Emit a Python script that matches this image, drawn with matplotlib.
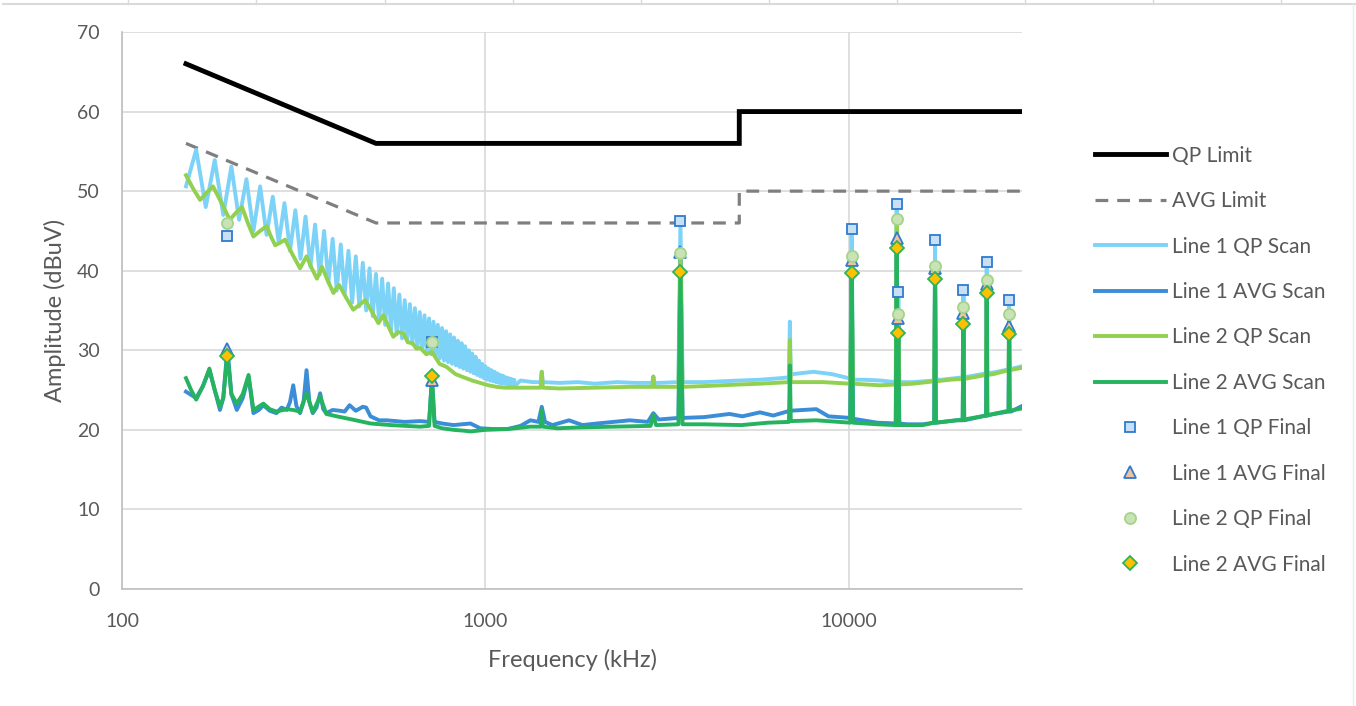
import matplotlib
matplotlib.use('Agg')
import matplotlib.pyplot as plt
from matplotlib.lines import Line2D
import numpy as np

plt.rcParams['font.family'] = ['Lato', 'DejaVu Sans']

# limit lines (kHz, dBuV)
limit_f = [150, 500, 5000, 5000, 30000]
qp_limit = [66, 56, 56, 60, 60]
avg_limit = [56, 46, 46, 50, 50]

# Line 1 QP scan, low band: ripple peaks and troughs
qp1_peak_f = [160, 180, 200, 220, 240, 260, 280, 300, 320, 340, 360, 380, 400, 420,
              440, 460, 480, 500, 520, 540, 560, 580, 600, 620, 640, 660, 680, 700,
              720, 740, 760, 780, 800, 820, 840, 860, 880, 900, 920, 940, 960, 980,
              1000, 1020, 1040, 1060, 1080, 1100, 1120, 1140, 1160, 1180, 1200]
qp1_peak = [55.2, 53.9, 53.1, 51.5, 50.6, 49.3, 48.5, 47.6, 46.8, 45.8, 45.0, 44.0,
            43.3, 42.5, 41.8, 41.0, 40.3, 39.6, 39.0, 38.4, 37.8, 37.0, 36.3, 35.8,
            35.3, 34.8, 34.4, 34.0, 33.6, 33.2, 32.8, 32.4, 32.0, 31.6, 31.2, 30.9,
            30.5, 30.0, 29.6, 29.2, 28.7, 28.3, 28.0, 27.7, 27.5, 27.3, 27.1, 26.9,
            26.8, 26.6, 26.5, 26.4, 26.3]
qp1_trough_f = [150, 170, 190, 210, 230, 250, 270, 290, 310, 330, 350, 370, 390, 410,
                430, 450, 470, 490, 510, 530, 550, 570, 590, 610, 630, 650, 670, 690,
                710, 730, 750, 770, 790, 810, 830, 850, 870, 890, 910, 930, 950, 970,
                990, 1010, 1030, 1050, 1070, 1090, 1110, 1130, 1150, 1170, 1190, 1210]
qp1_trough = [50.6, 48.0, 47.0, 46.4, 45.0, 44.5, 43.5, 42.5, 41.5, 40.5, 39.5, 38.5,
              37.5, 37.0, 36.0, 35.5, 35.0, 34.3, 33.6, 33.2, 32.5, 32.0, 31.5, 31.2,
              30.8, 30.4, 30.1, 29.8, 29.5, 29.2, 29.0, 28.7, 28.5, 28.3, 28.1, 27.9,
              27.7, 27.5, 27.3, 27.1, 26.9, 26.7, 26.5, 26.3, 26.2, 26.1, 26.0, 25.9,
              25.8, 25.8, 25.7, 25.7, 25.6, 25.6]
qp1_tail_f = [1250, 1350, 1420, 1430, 1440, 1600, 1800, 2000, 2300, 2600, 2880, 2900,
              2920, 3000, 3400, 3444, 3490, 4000, 5000, 5700, 6500, 6850, 6890, 6930,
              7000, 8000, 9000, 10000, 10100, 10190, 10280, 11000, 12200, 13480, 13560,
              13630, 13700, 13780, 15000, 17200, 17290, 17380, 18000, 20600, 20700,
              20800, 22000, 23900, 23990, 24080, 25000, 27550, 27650, 27750, 30000]
qp1_tail = [26.2, 26.0, 26.0, 27.3, 26.0, 25.9, 26.0, 25.8, 26.0, 25.9, 25.9, 26.7,
            25.9, 25.9, 26.0, 46.2, 26.0, 26.0, 26.2, 26.3, 26.5, 26.6, 33.6, 26.8,
            27.0, 27.3, 27.0, 26.5, 26.4, 45.3, 26.3, 26.3, 26.2, 26.0, 48.4,
            26.0, 37.3, 26.0, 26.0, 26.2, 43.8, 26.3, 26.3, 26.6, 37.6,
            26.6, 26.8, 27.1, 41.1, 27.1, 27.2, 27.6, 36.3, 27.6, 28.0]

# Line 2 QP scan
qp2_f = [150, 157, 164, 171, 178, 188, 198, 206, 214, 222, 230, 240, 250, 257, 264,
         272, 281, 295, 309, 315, 322, 333, 344, 350, 355, 368, 382, 389, 396, 414,
         433, 450, 467, 488, 508, 516, 524, 541, 558, 576, 595, 612, 630, 646, 662,
         688, 713, 748, 783, 828, 872, 920, 968, 1020, 1075, 1130, 1190, 1250, 1420,
         1430, 1440, 1600, 2000, 2500, 2880, 2900, 2920, 3400, 3444, 3490, 4000, 5000,
         5700, 6850, 6890, 6930, 8500, 10100, 10190, 10280, 12200, 13480, 13560, 13630,
         13700, 13780, 15000, 17200, 17290, 17380, 19000, 20600, 20700, 20800, 22000,
         23900, 23990, 24080, 25000, 27550, 27650, 27750, 30000]
qp2 = [52.0, 50.3, 48.9, 49.8, 50.6, 48.5, 46.4, 47.3, 48.0, 46.0, 44.3, 45.0, 45.6,
       44.3, 43.2, 43.5, 43.9, 42.0, 40.3, 41.0, 41.8, 40.3, 39.0, 39.8, 40.5, 38.8,
       37.2, 37.8, 38.2, 36.6, 35.1, 35.7, 36.3, 34.8, 33.4, 33.9, 34.4, 33.0, 31.7,
       32.3, 32.1, 31.0, 30.9, 30.2, 30.3, 29.5, 29.8, 28.3, 27.9, 27.0, 26.6, 26.2,
       25.9, 25.6, 25.4, 25.3, 25.3, 25.3, 25.3, 27.3, 25.3, 25.2, 25.3, 25.4, 25.4,
       26.7, 25.4, 25.4, 42.2, 25.4, 25.5, 25.7, 25.8, 26.0, 31.3, 26.0, 26.0, 25.8,
       41.8, 25.8, 25.6, 25.7, 46.5, 25.7, 34.6, 25.7, 25.8, 26.1, 40.6, 26.1, 26.3,
       26.4, 35.4, 26.4, 26.6, 26.9, 38.8, 26.9, 27.0, 27.5, 34.6, 27.5, 27.8]

# Line 1 AVG scan
avg1_f = [150, 160, 167, 174, 180, 186, 190, 195, 200, 207, 215, 223, 230, 238, 245,
          255, 266, 275, 284, 290, 296, 302, 309, 316, 322, 328, 335, 343, 351, 358,
          365, 380, 398, 410, 423, 440, 460, 470, 483, 510, 535, 600, 662, 700, 713,
          725, 760, 818, 910, 968, 1050, 1150, 1250, 1330, 1400, 1430, 1460, 1530,
          1700, 1850, 2030, 2250, 2500, 2800, 2900, 3000, 3400, 3444, 3490, 4000, 4700,
          5100, 5700, 6200, 6890, 7500, 8150, 8800, 10100, 10190, 10280, 12000, 13480,
          13560, 13630, 13700, 13780, 14500, 16000, 17200, 17290, 17380, 19800, 20600,
          20700, 20800, 23900, 23990, 24080, 24500, 27550, 27650, 27750, 28000, 30000]
avg1 = [24.8, 24.0, 25.5, 27.5, 25.0, 22.5, 24.0, 30.3, 24.5, 22.5, 24.0, 26.7, 22.1,
        22.5, 23.1, 22.4, 22.1, 22.8, 22.5, 23.5, 25.6, 23.0, 22.1, 23.5, 27.5, 23.5,
        22.1, 22.8, 24.6, 22.6, 22.1, 22.5, 22.4, 22.3, 23.1, 22.4, 22.9, 22.8, 21.7,
        21.2, 21.2, 21.0, 21.1, 21.0, 26.3, 21.0, 20.8, 20.6, 20.8, 20.2, 20.1, 20.1,
        20.5, 21.2, 21.0, 22.9, 21.0, 20.6, 21.2, 20.6, 20.8, 21.0, 21.2, 21.0, 22.1,
        21.3, 21.5, 42.4, 21.5, 21.6, 22.0, 21.7, 22.2, 21.8, 22.4, 22.5, 22.6, 21.7,
        21.5, 41.3, 21.4, 20.9, 20.8, 44.1, 20.8, 34.0, 20.8, 20.7, 20.7, 20.9, 40.3,
        20.9, 21.2, 21.2, 34.7, 21.2, 21.8, 38.3, 21.8, 21.9, 22.3, 33.0, 22.3, 22.3,
        23.0]

# Line 2 AVG scan
avg2_f = [150, 155, 160, 167, 174, 180, 186, 190, 195, 200, 207, 215, 223, 230, 245,
          255, 266, 284, 296, 309, 322, 335, 351, 365, 390, 430, 483, 550, 662, 700,
          713, 725, 760, 818, 872, 910, 1000, 1150, 1330, 1420, 1430, 1440, 1580, 1800,
          2250, 2850, 2900, 2950, 3400, 3444, 3490, 4000, 5070, 6000, 6850, 6890, 6930,
          8150, 10100, 10190, 10280, 12000, 13480, 13560, 13630, 13700, 13780, 16000,
          17200, 17290, 17380, 19800, 20600, 20700, 20800, 23900, 23990, 24080, 25000,
          27550, 27650, 27750, 30000]
avg2 = [26.5, 25.0, 23.8, 25.5, 27.7, 25.0, 22.9, 24.0, 29.5, 24.5, 23.3, 24.5, 26.9,
        22.5, 23.3, 22.6, 22.3, 22.6, 22.5, 22.3, 24.6, 22.2, 24.2, 22.0, 21.7, 21.3,
        20.8, 20.6, 20.4, 20.5, 26.8, 20.5, 20.2, 20.0, 19.9, 19.8, 20.0, 20.1, 20.4,
        20.4, 22.5, 20.4, 20.2, 20.3, 20.4, 20.5, 21.9, 20.6, 20.7, 39.9, 20.7, 20.7,
        20.6, 20.9, 21.0, 28.1, 21.1, 21.2, 20.9, 39.7, 20.9, 20.7, 20.6, 42.8, 20.6,
        32.2, 20.6, 20.6, 20.9, 38.9, 20.9, 21.2, 21.3, 33.3, 21.3, 21.8, 37.2, 21.8,
        22.0, 22.4, 32.0, 22.4, 22.7]

# final measurements
final_f = [195, 713, 3444, 10190, 13560, 13700, 17290, 20700, 23990, 27650]
qp1_final = [44.4, 31.1, 46.2, 45.3, 48.4, 37.3, 43.8, 37.6, 41.1, 36.3]
avg1_final = [30.2, 26.3, 42.4, 41.3, 44.1, 34.0, 40.3, 34.7, 38.3, 33.0]
qp2_final = [46.0, 31.0, 42.2, 41.8, 46.5, 34.6, 40.6, 35.4, 38.8, 34.6]
avg2_final = [29.3, 26.8, 39.9, 39.7, 42.8, 32.2, 38.9, 33.3, 37.2, 32.0]

# interleave ripple peaks/troughs with the flat tail
qp1_f = np.concatenate([qp1_peak_f, qp1_trough_f])
qp1 = np.concatenate([qp1_peak, qp1_trough])
order = np.argsort(qp1_f)
qp1_f = np.concatenate([qp1_f[order], qp1_tail_f])
qp1 = np.concatenate([qp1[order], qp1_tail])

W, H = 1356, 706
fig = plt.figure(figsize=(W / 100, H / 100), dpi=100)
ax = fig.add_axes([122 / W, 1 - 589 / H, 900 / W, 557 / H])

grid_c = '#D9D9D9'
text_c = '#595959'
scan_lw = 2.8

ax.plot(limit_f, qp_limit, color='black', lw=3.5, label='QP Limit',
        solid_joinstyle='miter')
ax.plot(limit_f, avg_limit, color='#7F7F7F', lw=2.3, ls=(0, (4, 2.8)),
        label='AVG Limit')
ax.plot(qp1_f, qp1, color='#7DD3F7', lw=scan_lw, label='Line 1 QP Scan')
ax.plot(avg1_f, avg1, color='#3A8DD6', lw=scan_lw, label='Line 1 AVG Scan')
ax.plot(qp2_f, qp2, color='#92D050', lw=scan_lw, label='Line 2 QP Scan')
ax.plot(avg2_f, avg2, color='#25B360', lw=scan_lw, label='Line 2 AVG Scan')

ms = 8
ax.plot(final_f, qp1_final, ls='none', marker='s', ms=ms - 0.5, mfc='#C9DFF3',
        mec='#2E7BCF', mew=1.3, label='Line 1 QP Final')
ax.plot(final_f, avg1_final, ls='none', marker='^', ms=ms, mfc='#F2C29E',
        mec='#2E7BCF', mew=1.3, label='Line 1 AVG Final')
ax.plot(final_f, qp2_final, ls='none', marker='o', ms=ms, mfc='#C8E3B6',
        mec='#A6D38A', mew=1.3, label='Line 2 QP Final')
ax.plot(final_f, avg2_final, ls='none', marker='D', ms=ms - 1, mfc='#FFC000',
        mec='#2DB35A', mew=1.3, label='Line 2 AVG Final')

ax.set_xscale('log')
ax.set_xlim(100, 30000)
ax.set_ylim(0, 70)
ax.set_xticks([100, 1000, 10000])
ax.set_xticklabels(['100', '1000', '10000'])
ax.xaxis.set_minor_locator(matplotlib.ticker.NullLocator())
ax.set_yticks(range(0, 71, 10))
ax.grid(True, color=grid_c, lw=1.2, zorder=0)
ax.set_axisbelow(True)
for s in ['top', 'right']:
    ax.spines[s].set_visible(False)
for s in ['left', 'bottom']:
    ax.spines[s].set_color('#BFBFBF')
    ax.spines[s].set_linewidth(1.2)
ax.tick_params(length=0, labelsize=14, labelcolor=text_c, pad=16)
ax.tick_params(axis='x', pad=17)

ax.set_xlabel('Frequency (kHz)', fontsize=17, color=text_c, labelpad=14)
ax.set_ylabel('Amplitude (dBuV)', fontsize=17, color=text_c, labelpad=8)

leg = fig.legend(loc='upper left', bbox_to_anchor=(1076 / W, 1 - 127 / H),
                 frameon=False, fontsize=15, handlelength=3.4, handletextpad=0.3,
                 labelspacing=1.22, numpoints=1)
for t in leg.get_texts():
    t.set_color(text_c)

# spreadsheet cell borders showing around the chart
fig.add_artist(Line2D([3 / W, 1], [1 - 4 / H, 1 - 4 / H], color='#DADADA', lw=1.5))
for x in [128, 256, 385, 513, 641, 769, 897, 1025, 1153, 1281]:
    fig.add_artist(Line2D([x / W, x / W], [1 - 4 / H, 1], color='#DADADA', lw=1.0))
fig.add_artist(Line2D([1353 / W, 1353 / W], [0, 1 - 4 / H], color='#EBEBEB', lw=1.0))

fig.savefig('out.png', dpi=100)
